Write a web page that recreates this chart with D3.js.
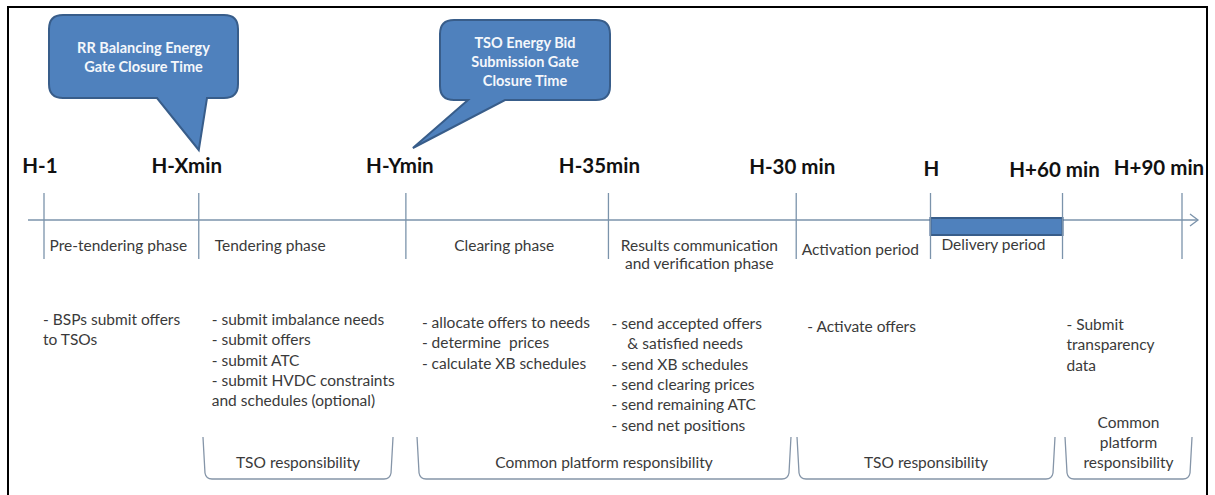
<!DOCTYPE html>
<html><head><meta charset="utf-8">
<script src="https://cdn.jsdelivr.net/npm/d3@7"></script>
<style>
html,body{margin:0;padding:0;background:#fff;}
svg{display:block;}
</style></head>
<body>
<svg id="chart" width="1215" height="495"></svg>
<script>
// ---- data ----
const timeLabels = ["H-1", "H-Xmin", "H-Ymin", "H-35min", "H-30 min", "H", "H+60 min", "H+90 min"];
// schematic position of each time mark along the timeline (0..100)
const timeUnits = [0, 13.6, 31.8, 49.6, 66.1, 77.9, 89.5, 100];
const phaseLabels = [["Pre-tendering phase"], ["Tendering phase"], ["Clearing phase"],
  ["Results communication", "and verification phase"], ["Activation period"], ["Delivery period"]];
const taskLists = [
  ["- BSPs submit offers", "to TSOs"],
  ["- submit imbalance needs", "- submit offers", "- submit ATC", "- submit HVDC constraints", "and schedules (optional)"],
  ["- allocate offers to needs", "- determine  prices", "- calculate XB schedules"],
  ["- send accepted offers", "    & satisfied needs", "- send XB schedules", "- send clearing prices", "- send remaining ATC", "- send net positions"],
  ["- Activate offers"],
  ["- Submit", "transparency", "data"]
];
const taskStartMark = [0, 1, 2, 3, 4, 6];
const respLabels = [["TSO responsibility"], ["Common platform responsibility"], ["TSO responsibility"], ["Common", "platform", "responsibility"]];
const respSpans = [[13.97, 30.67], [32.78, 65.64], [66.17, 88.84], [89.72, 100.88]];
const calloutTexts = [["RR Balancing Energy", "Gate Closure Time"], ["TSO Energy Bid", "Submission Gate", "Closure Time"]];
const calloutMarks = [1, 2];
const deliveryFrom = 5, deliveryTo = 6;

// ---- layout ----
const svg = d3.select("#chart");
const x = d3.scaleLinear().domain([0, 100]).range([44, 1182]);
const axisY = 220;
const lineCol = "#7b93ab";
const textCol = "#3a3a3a";
const FONT = "Lato, 'Open Sans', sans-serif";
const BODY = 15.5;

// frame
svg.append("rect").attr("x", 8).attr("y", 7).attr("width", 1199).attr("height", 500)
  .attr("fill", "none").attr("stroke", "#000").attr("stroke-width", 2);

// axis line + arrow
svg.append("line").attr("x1", 28).attr("x2", 1198).attr("y1", axisY).attr("y2", axisY)
  .attr("stroke", lineCol).attr("stroke-width", 1.3);
svg.append("path").attr("d", `M${1190},${axisY - 6} L${1198},${axisY} L${1190},${axisY + 6}`)
  .attr("fill", "none").attr("stroke", lineCol).attr("stroke-width", 1.3);

// delivery bar
svg.append("rect")
  .attr("x", x(timeUnits[deliveryFrom])).attr("y", axisY - 2)
  .attr("width", x(timeUnits[deliveryTo]) - x(timeUnits[deliveryFrom])).attr("height", 17)
  .attr("fill", "#4f81bd").attr("stroke", "#385d8a").attr("stroke-width", 2);

// tick marks
svg.selectAll("line.tick").data(timeUnits).join("line").attr("class", "tick")
  .attr("x1", d => x(d)).attr("x2", d => x(d)).attr("y1", 193).attr("y2", 259)
  .attr("stroke", lineCol).attr("stroke-width", 1.3);

// time labels
const labelDx = [-4, -12, -6, -9, -4, 1, -8, -23];
const labelDy = [173, 173, 173, 173, 174, 176, 177, 175];
svg.selectAll("text.tl").data(timeLabels).join("text").attr("class", "tl")
  .attr("x", (d, i) => x(timeUnits[i]) + labelDx[i]).attr("y", (d, i) => labelDy[i])
  .attr("text-anchor", "middle").attr("font-family", FONT).attr("font-weight", 700)
  .attr("font-size", 20.5).attr("fill", "#111").text(d => d);

// phase labels
const phaseG = svg.selectAll("g.phase").data(phaseLabels).join("g").attr("class", "phase");
phaseG.each(function (lines, i) {
  const x0 = x(timeUnits[i]), x1 = x(timeUnits[i + 1]);
  const left = i === 1;
  const yb = i === 4 ? 255 : (i === 5 ? 250 : 251);
  d3.select(this).selectAll("text").data(lines).join("text")
    .attr("x", left ? x0 + 16 : (x0 + x1) / 2 - 3)
    .attr("y", (d, j) => yb + j * 18)
    .attr("text-anchor", left ? "start" : "middle")
    .attr("font-family", FONT).attr("font-size", BODY).attr("fill", textCol).text(d => d);
});

// task lists
const taskDx = [-1, 13, 16, 3, 11, 4];
const taskBase = [325, 325, 328, 329, 332, 330];
svg.selectAll("g.tasks").data(taskLists).join("g").attr("class", "tasks")
  .each(function (lines, i) {
    d3.select(this).selectAll("text").data(lines).join("text")
      .attr("x", x(timeUnits[taskStartMark[i]]) + taskDx[i])
      .attr("y", (d, j) => taskBase[i] + j * 20.3)
      .attr("xml:space", "preserve").style("white-space", "pre")
      .attr("font-family", FONT).attr("font-size", BODY).attr("fill", textCol).text(d => d);
  });

// responsibility brackets
const bTop = 437, bBot = 479;
svg.selectAll("path.br").data(respSpans).join("path").attr("class", "br")
  .attr("d", d => {
    const a = x(d[0]), b = x(d[1]);
    return `M${a},${bTop} L${a + 2},${bBot - 6} Q${a + 3},${bBot} ${a + 9},${bBot} L${b - 9},${bBot} Q${b - 3},${bBot} ${b - 2},${bBot - 6} L${b},${bTop}`;
  })
  .attr("fill", "none").attr("stroke", "#8595a8").attr("stroke-width", 1.3);
svg.selectAll("g.resp").data(respLabels).join("g").attr("class", "resp")
  .each(function (lines, i) {
    const cx = (x(respSpans[i][0]) + x(respSpans[i][1])) / 2;
    d3.select(this).selectAll("text").data(lines).join("text")
      .attr("x", cx).attr("y", (d, j) => 468 - (lines.length - 1 - j) * 20)
      .attr("text-anchor", "middle").attr("font-family", FONT).attr("font-size", BODY)
      .attr("fill", textCol).text(d => d);
  });

// callouts
const callBox = [{x0: 49, x1: 238, y0: 15, y1: 98, p0: 157, p1: 207, tipY: 150},
                 {x0: 440, x1: 610, y0: 20, y1: 100, p0: 468, p1: 505, tipY: 148}];
const tipDx = [0, 7];
callBox.forEach((c, i) => {
  const r = 14;
  const tx = x(timeUnits[calloutMarks[i]]) + tipDx[i];
  const p = `M${c.x0 + r},${c.y0} L${c.x1 - r},${c.y0} Q${c.x1},${c.y0} ${c.x1},${c.y0 + r}
    L${c.x1},${c.y1 - r} Q${c.x1},${c.y1} ${c.x1 - r},${c.y1}
    L${c.p1},${c.y1} L${tx},${c.tipY} L${c.p0},${c.y1}
    L${c.x0 + r},${c.y1} Q${c.x0},${c.y1} ${c.x0},${c.y1 - r}
    L${c.x0},${c.y0 + r} Q${c.x0},${c.y0} ${c.x0 + r},${c.y0} Z`;
  svg.append("path").attr("d", p).attr("fill", "#4f81bd").attr("stroke", "#385d8a").attr("stroke-width", 2);
  const lines = calloutTexts[i];
  const cx = (c.x0 + c.x1) / 2;
  const base = i === 0 ? 53 : 48;
  svg.append("g").selectAll("text").data(lines).join("text")
    .attr("x", cx).attr("y", (d, j) => base + j * 19)
    .attr("text-anchor", "middle").attr("font-family", FONT).attr("font-weight", 700)
    .attr("font-size", 14.5).attr("fill", "#f4f7fb").text(d => d);
});
</script>
</body></html>
